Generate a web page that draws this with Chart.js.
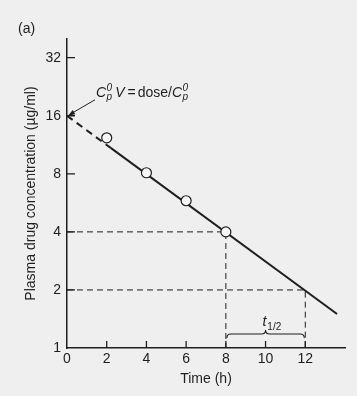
<!DOCTYPE html>
<html>
<head>
<meta charset="utf-8">
<script src="https://cdn.jsdelivr.net/npm/chart.js@4"></script>
<style>
  html, body { margin: 0; padding: 0; background: #efefef; }
</style>
</head>
<body>
<canvas id="chart" width="357" height="396"></canvas>
<script>
'use strict'

// measured concentrations (open circles)
let sampleTimes = [2, 4, 6, 8],
    sampleConc = [12.3, 8.1, 5.8, 4.0],
    // fitted line: dashed back-extrapolation to t=0, then solid
    fitTimes = [0, 2.2, 13.6],
    fitConc = [16, 10.9, 1.5],
    // half-life guide lines
    guide1Times = [0, 8, 8],
    guide1Conc = [4, 4, 1],
    guide2Times = [0, 12, 12],
    guide2Conc = [2, 2, 1],
    xTicks = [0, 2, 4, 6, 8, 10, 12],
    yTicks = [1, 2, 4, 8, 16, 32],
    ink = '#1e1e1e',
    font = "'Liberation Sans', Arial, sans-serif"

function pairs(xs, ys) {
    return xs.map((x, i) => ({x: x, y: ys[i]}))
}

// small ticks pointing into the plot, arrow + formula, brace, panel label
let extras = {
    id: 'extras',
    afterDraw(chart) {
        let ctx = chart.ctx,
            xs = chart.scales.x,
            ys = chart.scales.y,
            x0 = xs.getPixelForValue(0),
            y0 = ys.getPixelForValue(1)
        ctx.save()
        ctx.strokeStyle = ink
        ctx.fillStyle = ink
        ctx.lineWidth = 1.3
        ctx.beginPath()
        yTicks.slice(1).forEach(v => {
            let y = ys.getPixelForValue(v)
            ctx.moveTo(x0, y)
            ctx.lineTo(x0 + 8, y)
        })
        xTicks.slice(1).forEach(v => {
            let x = xs.getPixelForValue(v)
            ctx.moveTo(x, y0)
            ctx.lineTo(x, y0 - 7)
        })
        ctx.stroke()

        // arrow to the intercept
        let tx = x0 + 1, ty = ys.getPixelForValue(16)
        ctx.lineWidth = 1
        ctx.beginPath()
        ctx.moveTo(tx + 27, ty - 16)
        ctx.lineTo(tx + 3, ty - 2)
        ctx.stroke()
        let ang = Math.atan2(-16, 27)
        ctx.beginPath()
        ctx.moveTo(tx, ty)
        ctx.lineTo(tx + 7 * Math.cos(ang) - 2.5 * Math.sin(ang), ty + 7 * Math.sin(ang) + 2.5 * Math.cos(ang))
        ctx.lineTo(tx + 7 * Math.cos(ang) + 2.5 * Math.sin(ang), ty + 7 * Math.sin(ang) - 2.5 * Math.cos(ang))
        ctx.closePath()
        ctx.fill()

        // formula  Cp0 V = dose/Cp0
        let px = tx + 28, py = ty - 19
        ctx.textBaseline = 'alphabetic'
        ctx.textAlign = 'left'
        function cp0() {
            ctx.font = 'italic 14px ' + font
            ctx.fillText('C', px, py)
            px += ctx.measureText('C').width + 0.5
            ctx.font = 'italic 10px ' + font
            ctx.fillText('0', px, py - 6)
            ctx.fillText('p', px, py + 3)
            px += ctx.measureText('0').width + 1
        }
        cp0()
        px += 2
        ctx.font = 'italic 14px ' + font
        ctx.fillText('V', px, py)
        px += ctx.measureText('V').width + 3
        ctx.font = '14px ' + font
        ctx.fillText('=', px, py)
        px += ctx.measureText('=').width + 2
        ctx.fillText('dose/', px, py)
        px += ctx.measureText('dose/').width
        cp0()

        // brace under the half-life
        let bx1 = xs.getPixelForValue(8) + 1,
            bx2 = xs.getPixelForValue(12) - 1,
            bm = (bx1 + bx2) / 2,
            by = y0 - 14
        ctx.lineWidth = 1.1
        ctx.beginPath()
        ctx.moveTo(bx1, by + 4)
        ctx.quadraticCurveTo(bx1, by, bx1 + 4, by)
        ctx.lineTo(bm - 4, by)
        ctx.quadraticCurveTo(bm, by, bm, by - 4)
        ctx.quadraticCurveTo(bm, by, bm + 4, by)
        ctx.lineTo(bx2 - 4, by)
        ctx.quadraticCurveTo(bx2, by, bx2, by + 4)
        ctx.stroke()

        ctx.font = 'italic 14px ' + font
        let lx = bm - 3
        ctx.fillText('t', lx, by - 8)
        ctx.font = '10px ' + font
        ctx.fillText('1/2', lx + ctx.measureText('t').width + 2, by - 4)

        ctx.font = '14px ' + font
        ctx.fillText('(a)', 18, 33)
        ctx.restore()
    }
}

let data = {
    datasets: [{
        label: 'samples',
        data: pairs(sampleTimes, sampleConc),
        showLine: false,
        pointRadius: 5,
        pointBackgroundColor: '#f7f7f7',
        pointBorderColor: ink,
        pointBorderWidth: 1.2,
        order: 0
    }, {
        label: 'fit',
        data: pairs(fitTimes, fitConc),
        showLine: true,
        borderColor: ink,
        borderWidth: 2,
        pointRadius: 0,
        segment: {
            borderDash: c => c.p0DataIndex === 0 ? [7, 5] : undefined
        },
        order: 1
    }, {
        label: 'guide 4',
        data: pairs(guide1Times, guide1Conc),
        showLine: true,
        borderColor: ink,
        borderWidth: 1,
        borderDash: [6, 4],
        pointRadius: 0,
        order: 2
    }, {
        label: 'guide 2',
        data: pairs(guide2Times, guide2Conc),
        showLine: true,
        borderColor: ink,
        borderWidth: 1,
        borderDash: [6, 4],
        pointRadius: 0,
        order: 2
    }]
}

let config = {
    type: 'scatter',
    data: data,
    options: {
        responsive: false,
        animation: false,
        layout: {padding: {left: 0, top: 39, right: 12, bottom: 0}},
        plugins: {legend: {display: false}, tooltip: {enabled: false}},
        scales: {
            x: {
                type: 'linear',
                min: 0,
                max: 14,
                afterBuildTicks: a => { a.ticks = xTicks.map(v => ({value: v})) },
                afterFit: a => { a.height = 48 },
                grid: {display: false, drawTicks: false},
                border: {display: true, color: ink, width: 1.5},
                ticks: {color: ink, padding: 3, maxRotation: 0, font: {family: font, size: 14}},
                title: {display: true, text: 'Time (h)', color: ink, padding: {top: 2, bottom: 8}, font: {family: font, size: 14}}
            },
            y: {
                type: 'logarithmic',
                min: 1,
                max: 40,
                afterBuildTicks: a => { a.ticks = yTicks.map(v => ({value: v})) },
                afterFit: a => { a.width = 67 },
                grid: {display: false, drawTicks: false},
                border: {display: true, color: ink, width: 1.5},
                ticks: {color: ink, padding: 6, callback: v => String(v), font: {family: font, size: 14}},
                title: {display: true, text: 'Plasma drug concentration (µg/ml)', color: ink, padding: {top: 23, bottom: 0}, font: {family: font, size: 14}}
            }
        }
    },
    plugins: [extras]
}

let myChart = new Chart(document.getElementById('chart'), config)
</script>
</body>
</html>
